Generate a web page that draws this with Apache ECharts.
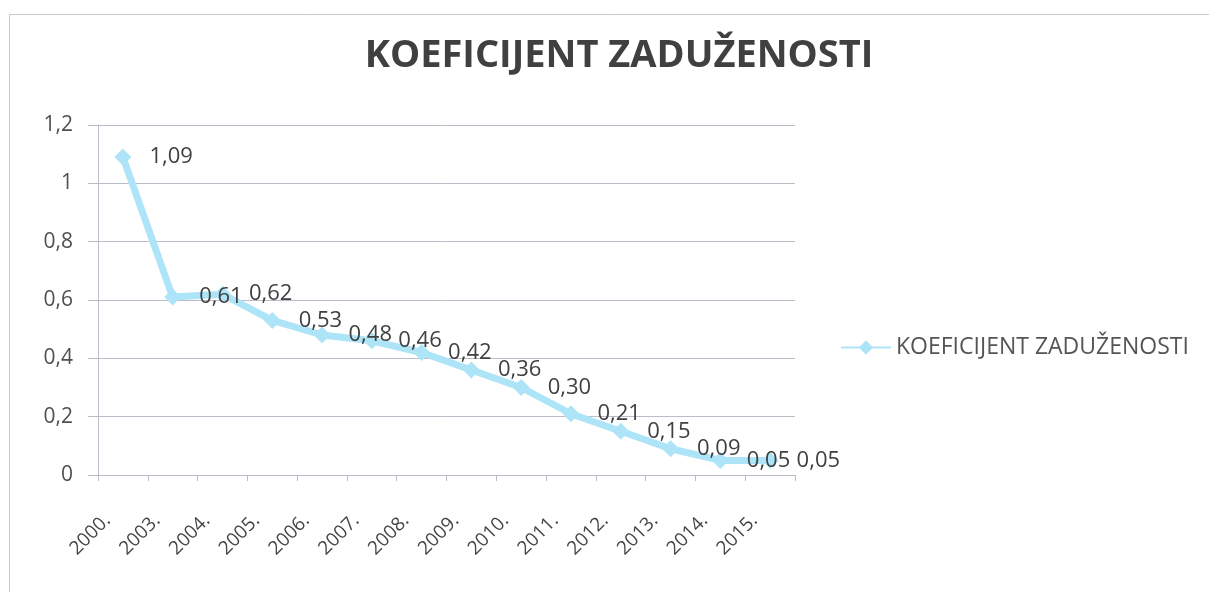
<!DOCTYPE html>
<html lang="hr">
<head>
    <meta charset="UTF-8">
    <title>Koeficijent zaduženosti</title>
    <script type="text/javascript" src="https://cdn.jsdelivr.net/npm/echarts@6/dist/echarts.min.js"></script>
    <style>
        html, body { margin: 0; padding: 0; background: #fff; }
    </style>
</head>
<body>
<div id="chart" style="width: 1209px;height: 592px"></div>
<script type="text/javascript">
    var godine = ['2000.', '2003.', '2004.', '2005.', '2006.', '2007.', '2008.',
        '2009.', '2010.', '2011.', '2012.', '2013.', '2014.', '2015.'];
    var koeficijent = [1.09, 0.61, 0.62, 0.53, 0.48, 0.46, 0.42,
        0.36, 0.30, 0.21, 0.15, 0.09, 0.05, 0.05];
    var nazivSerije = 'KOEFICIJENT ZADUŽENOSTI';

    var font = '"Open Sans", sans-serif';
    var myChart = echarts.init(document.getElementById('chart'));
    var option = {
        backgroundColor: '#fff',
        animation: false,
        graphic: [{
            type: 'rect',
            shape: {x: 9.5, y: 14.5, width: 1220, height: 620},
            style: {fill: 'none', stroke: '#c8c8c8', lineWidth: 1}
        }],
        title: {
            text: nazivSerije,
            left: 614,
            textAlign: 'center',
            top: 32,
            textStyle: {fontFamily: font, fontSize: 38, fontWeight: 'bold', color: '#404040'}
        },
        legend: {
            orient: 'vertical',
            left: 835,
            top: 331,
            itemWidth: 50,
            itemHeight: 18,
            itemGap: 5,
            textStyle: {fontFamily: font, fontSize: 23, color: '#555'},
            data: [nazivSerije]
        },
        grid: {left: 98, right: 414, top: 125, bottom: 117},
        xAxis: {
            type: 'category',
            data: godine,
            boundaryGap: true,
            axisLine: {lineStyle: {color: '#bcbcc8', width: 1}},
            axisTick: {show: true, length: 6, lineStyle: {color: '#bcbcc8'}},
            axisLabel: {
                rotate: 45,
                margin: 27,
                padding: [0, 22, 0, 0],
                fontFamily: font,
                fontSize: 19,
                color: '#444'
            }
        },
        yAxis: {
            type: 'value',
            min: 0,
            max: 1.2,
            interval: 0.2,
            axisLine: {show: true, lineStyle: {color: '#bcbcc8'}},
            axisTick: {show: true, length: 10, lineStyle: {color: '#bcbcc8'}},
            splitLine: {lineStyle: {color: '#bcbcc8', width: 1}},
            axisLabel: {
                margin: 25,
                fontFamily: font,
                fontSize: 21,
                color: '#505050',
                formatter: function (v) {
                    return String(Math.round(v * 10) / 10).replace('.', ',');
                }
            }
        },
        series: [{
            name: nazivSerije,
            type: 'line',
            data: koeficijent,
            symbol: 'diamond',
            symbolSize: 17,
            itemStyle: {color: '#aee4f7'},
            lineStyle: {color: '#aee4f7', width: 7},
            label: {
                show: true,
                position: 'right',
                distance: 18,
                fontFamily: font,
                fontSize: 22,
                color: '#404040',
                formatter: function (p) {
                    return p.value.toFixed(2).replace('.', ',');
                }
            }
        }]
    };
    myChart.setOption(option, true);
</script>
</body>
</html>
